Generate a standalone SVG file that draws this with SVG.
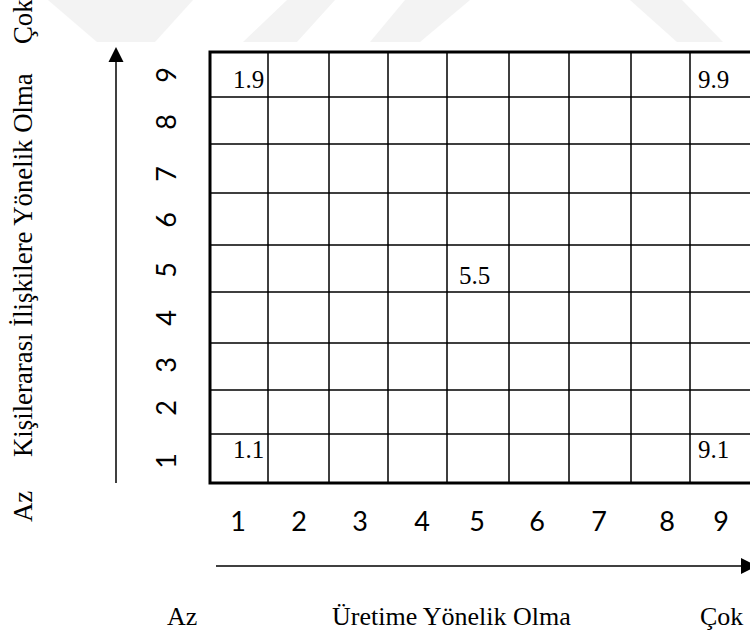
<svg xmlns="http://www.w3.org/2000/svg" width="750" height="634" viewBox="0 0 750 634">
<style>
.serif{font-family:"Liberation Serif","Times New Roman",serif;fill:#000}
.lab{font-size:26px}
.vlab{font-size:26.8px}
.cell{font-size:25px}
.num{font-family:Lato,"Open Sans",sans-serif;font-size:27px;fill:#000}
.thin{stroke:#000;stroke-width:1.5;fill:none}
.wm{fill:#f3f3f3}
</style>
<rect width="750" height="634" fill="#fff"/>
<g id="watermark">
<polygon class="wm" points="48,0 193,0 155,42 97,42"/>
<polygon class="wm" points="287,0 335,0 297,42 243,42"/>
<polygon class="wm" points="405,0 470,0 420,42 370,42"/>
<polygon class="wm" points="630,0 682,0 723,42 677,42"/>
</g>
<g id="grid">
<rect x="210" y="52" width="543" height="431" fill="none" stroke="#000" stroke-width="3"/>
<path class="thin" d="M268,52V483M329,52V483M388,52V483M447,52V483M509,52V483M569,52V483M631,52V483M690,52V483M210,97H753M210,144H753M210,193H753M210,245H753M210,292H753M210,343H753M210,390H753M210,434H753"/>
</g>
<g id="cells" class="serif cell">
<text x="233" y="88">1.9</text>
<text x="698" y="88">9.9</text>
<text x="459" y="284">5.5</text>
<text x="233" y="458">1.1</text>
<text x="698" y="458">9.1</text>
</g>
<g id="connectors">
<line x1="116" y1="483" x2="116" y2="62" stroke="#000" stroke-width="1.5"/>
<polygon points="116,47 108.5,62 123.5,62" fill="#000"/>
<line x1="216" y1="566" x2="742" y2="566" stroke="#000" stroke-width="1.5"/>
<polygon points="741,558 741,574 757,566" fill="#000"/>
</g>
<g id="y-ticks" class="num" text-anchor="middle">
<text transform="translate(176,75) rotate(-90)">9</text>
<text transform="translate(176,122) rotate(-90)">8</text>
<text transform="translate(176,174) rotate(-90)">7</text>
<text transform="translate(176,220) rotate(-90)">6</text>
<text transform="translate(176,270) rotate(-90)">5</text>
<text transform="translate(176,318) rotate(-90)">4</text>
<text transform="translate(176,365) rotate(-90)">3</text>
<text transform="translate(176,408) rotate(-90)">2</text>
<text transform="translate(176,461) rotate(-90)">1</text>
</g>
<g id="x-ticks" class="num" text-anchor="middle">
<text x="238" y="531">1</text>
<text x="299" y="531">2</text>
<text x="360" y="531">3</text>
<text x="422" y="531">4</text>
<text x="477" y="531">5</text>
<text x="537" y="531">6</text>
<text x="599" y="531">7</text>
<text x="667" y="531">8</text>
<text x="721" y="531">9</text>
</g>
<g id="y-label" class="serif vlab">
<text transform="translate(32,522) rotate(-90)">Az</text>
<text transform="translate(32,457) rotate(-90)">Kişilerarası İlişkilere Yönelik Olma</text>
<text transform="translate(32,44) rotate(-90)">Çok</text>
</g>
<g id="x-label" class="serif lab">
<text x="167" y="625">Az</text>
<text x="332" y="625">Üretime Yönelik Olma</text>
<text x="700" y="625">Çok</text>
</g>
</svg>
